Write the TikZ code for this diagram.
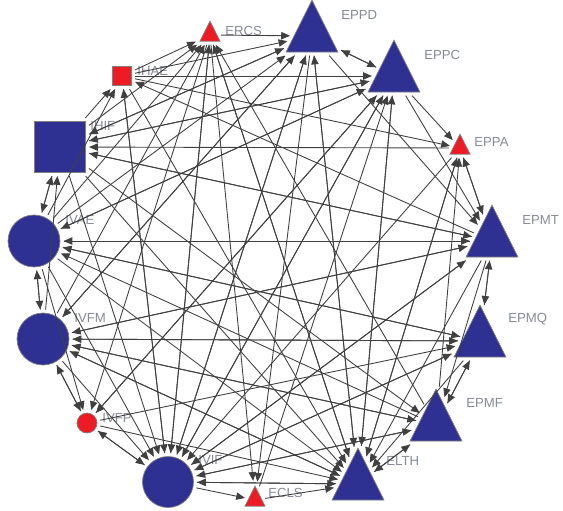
\documentclass[tikz,border=0pt]{standalone}
\usepackage{fontspec}
\setmainfont{Liberation Sans}
\usetikzlibrary{arrows.meta,shapes.geometric}
\definecolor{netblue}{RGB}{46,49,146}
\definecolor{netred}{RGB}{237,28,36}
\definecolor{netgray}{RGB}{135,138,150}

\begin{document}
\begin{tikzpicture}[x=0.02cm, y=-0.02cm,
    font=\fontsize{7.5}{9}\selectfont,
    lbl/.style={text=netgray, anchor=west, inner sep=0pt},
    tri/.style={isosceles triangle, shape border rotate=90, isosceles triangle stretches,
        inner sep=0pt, draw=gray, outer sep=2pt},
    bigtri/.style={tri, fill=netblue, minimum width=1.04cm, minimum height=1.04cm},
    smalltri/.style={tri, fill=netred, minimum width=0.4cm, minimum height=0.4cm},
    disc/.style={circle, draw=gray, inner sep=0pt, outer sep=2pt},
    box/.style={rectangle, draw=gray, inner sep=0pt, outer sep=2pt},
    edge/.style={draw=black!75, line width=0.5pt, -{Triangle[length=5pt,width=4.2pt]}}]
  \useasboundingbox (0,0) rectangle (563,510);

  \node[smalltri] (ercs) at (210,35) {};
  \node[bigtri] (eppd) at (312,36) {};
  \node[bigtri] (eppc) at (394,76) {};
  \node[smalltri] (eppa) at (460,148) {};
  \node[bigtri] (epmt) at (492,241) {};
  \node[bigtri] (epmq) at (480,341) {};
  \node[bigtri] (epmf) at (436,425) {};
  \node[bigtri] (elth) at (358,484) {};
  \node[smalltri] (ecls) at (255,500) {};
  \node[disc, fill=netblue, minimum size=1.02cm] (ivif) at (168,482) {};
  \node[disc, fill=netred, minimum size=0.4cm] (ivfp) at (87,423) {};
  \node[disc, fill=netblue, minimum size=1.04cm] (ivfm) at (43,339) {};
  \node[disc, fill=netblue, minimum size=1.04cm] (ivae) at (34,241) {};
  \node[box, fill=netblue, minimum size=1.02cm] (ihif) at (60,147) {};
  \node[box, fill=netred, minimum size=0.38cm] (ihae) at (122,76) {};

  \node[lbl] (l-ercs) at (225,31) {ERCS};
  \node[lbl] (l-eppd) at (341,15) {EPPD};
  \node[lbl] (l-eppc) at (424,55) {EPPC};
  \node[lbl] (l-eppa) at (474,142) {EPPA};
  \node[lbl] (l-epmt) at (522,220) {EPMT};
  \node[lbl] (l-epmq) at (508,319) {EPMQ};
  \node[lbl] (l-epmf) at (466,403) {EPMF};
  \node[lbl] (l-elth) at (386,461) {ELTH};
  \node[lbl] (l-ecls) at (268,493) {ECLS};
  \node[lbl] (l-ivif) at (198,460) {IVIF};
  \node[lbl] (l-ivfp) at (102,418) {IVFP};
  \node[lbl] (l-ivfm) at (74,318) {IVFM};
  \node[lbl] (l-ivae) at (65,220) {IVAE};
  \node[lbl] (l-ihif) at (90,126) {IHIF};
  \node[lbl] (l-ihae) at (137,71) {IHAE};

  \foreach \s in {ercs,eppd,eppc,eppa,epmt,epmq,epmf,elth,ivfp,ivfm,ivae,ihif,ihae}
    \draw[edge] (\s) -- (ivif);
  \foreach \s in {ercs,eppd,eppc,eppa,epmt,epmq,epmf,ecls,ivif,ivfp,ivfm,ivae,ihif,ihae}
    \draw[edge] (\s) -- (elth);
  \foreach \s/\t in {ercs/eppd,eppc/eppd,ihif/eppd,ivae/eppd,ivfm/eppd,ivif/eppd,elth/eppd,ihae/eppd,
      eppd/eppc,ihae/eppc,ihif/eppc,ivae/eppc,ivfp/eppc,ivif/eppc,elth/eppc,ecls/eppc,
      eppc/eppa,epmt/eppa,ihae/eppa,elth/eppa,epmf/eppa,
      eppa/epmt,epmq/epmt,eppd/epmt,eppc/epmt,ihif/epmt,ivae/epmt,ivfm/epmt,ivif/epmt,
      epmt/epmq,epmf/epmq,ivfm/epmq,ivfp/epmq,ivif/epmq,ivae/epmq,
      epmq/epmf,epmt/epmf,elth/epmf,ivif/epmf,ivfm/epmf,ihif/epmf,
      ivif/ecls,ercs/ecls,eppd/ecls,
      ivfm/ivfp,ivif/ivfp,ercs/ivfp,ivae/ivfp,eppc/ivfp,
      ivae/ivfm,ivfp/ivfm,epmq/ivfm,epmt/ivfm,epmf/ivfm,elth/ivfm,eppd/ivfm,
      ihif/ivae,ivfm/ivae,epmt/ivae,epmq/ivae,epmf/ivae,eppc/ivae,
      ivae/ihif,ivfm/ihif,epmt/ihif,eppa/ihif,eppc/ihif,eppd/ihif,
      ihif/ihae,ivae/ihae,ivif/ihae,epmt/ihae,
      ihae/ercs,ihif/ercs,ivae/ercs,ivfm/ercs,ivif/ercs,elth/ercs,epmf/ercs}
    \draw[edge] (\s) -- (\t);
\end{tikzpicture}
\end{document}
